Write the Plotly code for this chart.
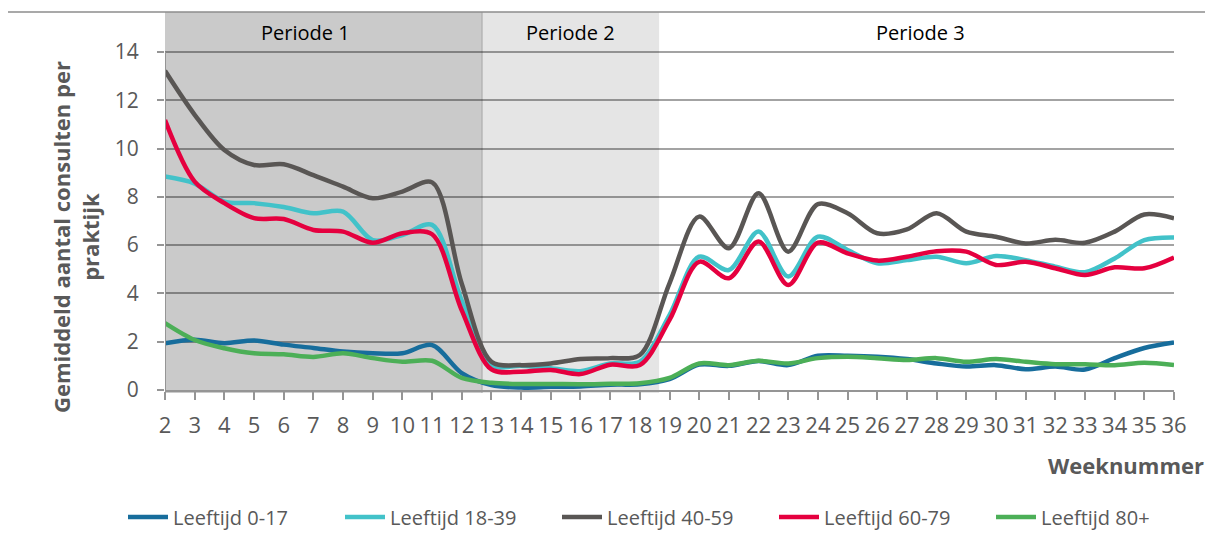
import plotly.graph_objects as go

weeks = list(range(2, 37))

age_0_17 = [1.94, 2.08, 1.94, 2.05, 1.88, 1.74, 1.59, 1.52, 1.52, 1.86, 0.7, 0.2, 0.1, 0.13, 0.15, 0.22, 0.24,
            0.45, 1.05, 1.0, 1.2, 1.03, 1.42, 1.42, 1.38, 1.28, 1.1, 0.97, 1.03, 0.86, 0.97, 0.85, 1.32, 1.74, 1.97]
age_18_39 = [8.84, 8.55, 7.8, 7.74, 7.58, 7.32, 7.39, 6.21, 6.42, 6.84, 3.7, 1.03, 1.0, 0.9, 0.78, 1.1, 1.17,
             3.1, 5.52, 4.97, 6.56, 4.7, 6.35, 5.8, 5.25, 5.38, 5.52, 5.25, 5.55, 5.38, 5.11, 4.88, 5.45, 6.21, 6.32]
age_40_59 = [13.22, 11.4, 9.94, 9.32, 9.35, 8.9, 8.42, 7.94, 8.22, 8.6, 4.4, 1.17, 1.03, 1.1, 1.28, 1.32, 1.45,
             4.42, 7.18, 5.87, 8.15, 5.73, 7.7, 7.32, 6.49, 6.65, 7.32, 6.56, 6.35, 6.07, 6.22, 6.1, 6.56, 7.27, 7.11]
age_60_79 = [11.18, 8.63, 7.74, 7.12, 7.08, 6.63, 6.56, 6.1, 6.49, 6.45, 3.3, 0.85, 0.76, 0.83, 0.66, 1.05, 1.03,
             2.9, 5.31, 4.63, 6.15, 4.35, 6.1, 5.66, 5.36, 5.52, 5.75, 5.73, 5.18, 5.31, 5.04, 4.76, 5.08, 5.04, 5.49]
age_80 = [2.77, 2.07, 1.73, 1.52, 1.48, 1.37, 1.52, 1.32, 1.17, 1.21, 0.5, 0.3, 0.25, 0.25, 0.24, 0.26, 0.28,
          0.5, 1.1, 1.03, 1.21, 1.1, 1.32, 1.38, 1.32, 1.24, 1.32, 1.17, 1.28, 1.17, 1.07, 1.07, 1.03, 1.13, 1.03]

series_names = ["Leeftijd 0-17", "Leeftijd 18-39", "Leeftijd 40-59", "Leeftijd 60-79", "Leeftijd 80+"]
series_values = [age_0_17, age_18_39, age_40_59, age_60_79, age_80]
series_colors = ["#176d9c", "#42c2c9", "#595654", "#e5003f", "#4caf57"]

y_ticks = [0, 2, 4, 6, 8, 10, 12, 14]
period_labels = ["Periode 1", "Periode 2", "Periode 3"]

TXT = "#595959"
GRID = "rgba(0,0,0,0.36)"
AXIS = "#959595"
FONT = "Open Sans"

fig = go.Figure()
for name, vals, col in zip(series_names, series_values, series_colors):
    fig.add_trace(go.Scatter(
        x=weeks, y=vals, name=name, mode="lines",
        line=dict(color=col, width=4.5, shape="spline", smoothing=0.9),
    ))

# page body has an 8px margin; reference pixel targets are converted with OFF
OFF = 8
W, H = 1213 - OFF, 551 - OFF
ml = 165 - OFF
mt = 12 - OFF
mr = W - (1174 - OFF)
mb = H - (390 - OFF)
pw = W - ml - mr
ph = H - mt - mb


def px_x(p):
    return (p - OFF - ml) / pw


def px_y(p):
    return (H - mb - (p - OFF)) / ph


shapes = [
    dict(type="rect", xref="x", yref="paper", x0=2, x1=12.68, y0=px_y(393), y1=1,
         fillcolor="#cacaca", line=dict(width=0), layer="below"),
    dict(type="rect", xref="x", yref="paper", x0=12.68, x1=18.65, y0=px_y(393), y1=1,
         fillcolor="#e5e5e5", line=dict(width=0), layer="below"),
    dict(type="line", xref="x", yref="paper", x0=12.68, x1=12.68, y0=px_y(393), y1=1,
         line=dict(color="#b4b4b4", width=1.5), layer="below"),
    # y axis line from 0 to 14
    dict(type="line", xref="x", yref="y", x0=2, x1=2, y0=0, y1=14,
         line=dict(color=AXIS, width=2)),
    # outer chart frame
    dict(type="line", xref="paper", yref="paper", x0=px_x(7), x1=px_x(7), y0=px_y(560), y1=px_y(12),
         line=dict(color="#8c8c8c", width=1.5)),
    dict(type="line", xref="paper", yref="paper", x0=px_x(7), x1=px_x(1220), y0=px_y(12), y1=px_y(12),
         line=dict(color="#8c8c8c", width=1.5)),
]

period_x = [305, 570, 920]
annotations = [
    dict(text=lab, xref="paper", yref="paper", x=px_x(px), y=px_y(32), xanchor="center", yanchor="middle",
         showarrow=False, font=dict(size=20, color="#000000", family=FONT))
    for lab, px in zip(period_labels, period_x)
]
annotations += [
    dict(text="<b>Gemiddeld aantal consulten per<br>praktijk</b>", xref="paper", yref="paper",
         x=px_x(75), y=px_y(237), xanchor="center", yanchor="middle", textangle=-90, showarrow=False,
         font=dict(size=22, color=TXT, family=FONT)),
    dict(text="<b>Weeknummer</b>", xref="paper", yref="paper", x=px_x(1206), y=px_y(465),
         xanchor="right", yanchor="middle", showarrow=False, font=dict(size=22, color=TXT, family=FONT)),
]

fig.update_layout(
    width=W, height=H,
    margin=dict(l=ml, r=mr, t=mt, b=mb, autoexpand=False),
    paper_bgcolor="white", plot_bgcolor="white",
    font=dict(family=FONT, color=TXT, size=20),
    shapes=shapes, annotations=annotations,
    showlegend=True,
    legend=dict(orientation="h", x=px_x(123), y=px_y(517), xanchor="left", yanchor="middle",
                font=dict(size=20, color=TXT, family=FONT), entrywidth=162, entrywidthmode="pixels",
                bgcolor="rgba(0,0,0,0)", itemwidth=40, tracegroupgap=0),
    xaxis=dict(range=[2, 36], tickvals=weeks, ticktext=[str(w) for w in weeks],
               showgrid=False, zeroline=False, showline=True, linecolor=AXIS, linewidth=2,
               ticks="outside", ticklen=8, tickwidth=2, tickcolor=AXIS,
               tickfont=dict(size=22, color=TXT, family=FONT), ticklabelstandoff=7),
    yaxis=dict(range=[0, (H - mb - mt) / ((390 - 52) / 14)], tickvals=y_ticks,
               showgrid=True, gridcolor=GRID, gridwidth=2, zeroline=False, showline=False,
               ticks="outside", ticklen=7, tickwidth=2, tickcolor=AXIS,
               tickfont=dict(size=21, color=TXT, family=FONT), ticklabelstandoff=14),
)

fig.write_html("out.html")
